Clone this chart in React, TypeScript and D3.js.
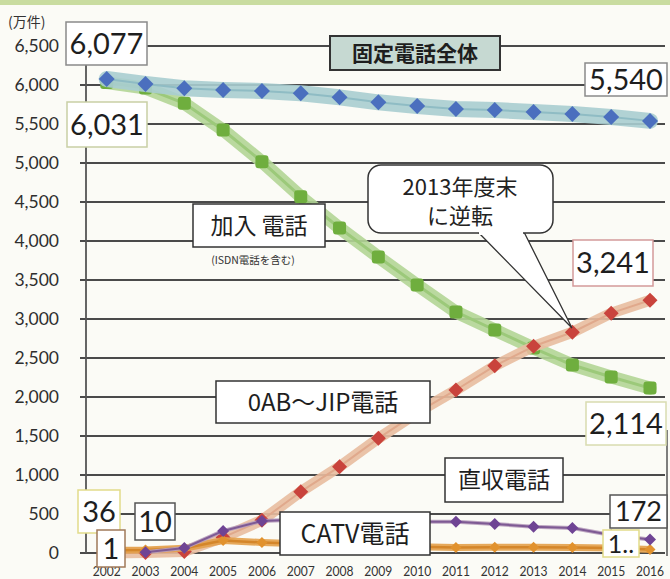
import React from "react";
import * as d3 from "d3";

const years = ["2002","2003","2004","2005","2006","2007","2008","2009","2010","2011","2012","2013","2014","2015","2016"];
const yTicks = [0,500,1000,1500,2000,2500,3000,3500,4000,4500,5000,5500,6000,6500];

const totalFixed = [6077,6013,5958,5936,5923,5894,5842,5778,5731,5692,5679,5654,5628,5590,5540];
const subscriber = [6031,5960,5765,5423,5017,4568,4167,3795,3436,3090,2859,2628,2410,2256,2114];
const ipPhone = [1,5,20,200,420,786,1107,1470,1800,2090,2400,2650,2830,3075,3241];
const directLine: (number|null)[] = [null,10,64,283,411,430,420,410,400,401,372,337,320,230,172];
const catv = [36,40,60,160,135,120,100,90,80,72,75,75,72,65,45];

const W = 670, H = 579;
const JP = "'Noto Sans CJK JP', 'Noto Sans', sans-serif";
const NUM = "Lato, 'Open Sans', 'DejaVu Sans', sans-serif";

type Box = { x: number; y: number; w: number; h: number; text: string; stroke: string; size: number; font?: string; fill?: string; bold?: boolean };

const boxes: Box[] = [
  { x: 66, y: 22, w: 81, h: 43, text: "6,077", stroke: "#8a8a8a", size: 29, font: NUM },
  { x: 67, y: 102, w: 80, h: 45, text: "6,031", stroke: "#c9cfa5", size: 29, font: NUM },
  { x: 330, y: 36, w: 170, h: 34, text: "固定電話全体", stroke: "#333", size: 21, font: JP, fill: "#c6d9d2", bold: true },
  { x: 585, y: 63, w: 82, h: 33, text: "5,540", stroke: "#8a8a8a", size: 29, font: NUM },
  { x: 193, y: 204, w: 132, h: 43, text: "加入 電話", stroke: "#333", size: 23, font: JP },
  { x: 573, y: 240, w: 80, h: 46, text: "3,241", stroke: "#d49a9a", size: 29, font: NUM },
  { x: 216, y: 381, w: 214, h: 42, text: "0AB～JIP電話", stroke: "#333", size: 24, font: JP },
  { x: 586, y: 402, w: 80, h: 43, text: "2,114", stroke: "#d9dcb0", size: 29, font: NUM },
  { x: 445, y: 458, w: 118, h: 44, text: "直収電話", stroke: "#333", size: 23, font: JP },
  { x: 610, y: 495, w: 57, h: 33, text: "172", stroke: "#555", size: 27, font: NUM },
  { x: 280, y: 512, w: 150, h: 43, text: "CATV電話", stroke: "#333", size: 25, font: JP },
  { x: 78, y: 490, w: 42, h: 43, text: "36", stroke: "#e2dc8a", size: 29, font: NUM },
  { x: 135, y: 503, w: 40, h: 37, text: "10", stroke: "#555", size: 29, font: NUM },
  { x: 97, y: 530, w: 28, h: 37, text: "1", stroke: "#a07a5a", size: 29, font: NUM },
  { x: 603, y: 530, w: 36, h: 27, text: "1..", stroke: "#e2dc8a", size: 25, font: NUM },
];

export default function App() {
  const y = d3.scaleLinear().domain([0, 6500]).range([553, 46]);
  const x = d3.scalePoint<string>().domain(years).range([106.7, 650]);

  const mkLine = (vals: (number | null)[]) =>
    d3.line<number | null>()
      .defined((d) => d !== null)
      .x((_, i) => x(years[i]) as number)
      .y((d) => y(d as number))(vals) as string;

  const diamond = (cx: number, cy: number, r: number) =>
    `M${cx},${cy - r}L${cx + r},${cy}L${cx},${cy + r}L${cx - r},${cy}Z`;

  const series = [
    { vals: subscriber, band: "#b3d596", bandW: 13, line: "#9cc97a", lineW: 3, marker: "#6fae3e", shape: "rsq", r: 6.5 },
    { vals: totalFixed, band: "#a9cdd0", bandW: 16, line: "#8fbcc4", lineW: 2, marker: "#4b6fbe", shape: "dia", r: 8 },
    { vals: ipPhone, band: "#e8bda0", bandW: 11, line: "#e0a98c", lineW: 2, marker: "#c9433c", shape: "dia", r: 7.5 },
    { vals: catv, band: "#e3a04a", bandW: 7, line: "#d4862a", lineW: 2.5, marker: "#e1922e", shape: "dia", r: 5.5 },
    { vals: directLine, band: "#b79dbd", bandW: 4, line: "#7e5a94", lineW: 2, marker: "#6f4494", shape: "dia", r: 6 },
  ];

  return (
    <svg width={W} height={H} style={{ position: "absolute", left: 0, top: 0, background: "#fbfbf6" }}>
      <rect x={0} y={0} width={W} height={H} fill="#fbfbf6" />
      <rect x={0} y={0} width={W} height={5} fill="#c9dca0" />

      <text x={8} y={27} fontFamily={JP} fontSize={14} fill="#333">(万件)</text>

      {yTicks.map((t) => (
        <line key={t} x1={80} x2={665} y1={y(t)} y2={y(t)} stroke="#4a4a4a" strokeWidth={1.8} />
      ))}
      <line x1={86} x2={86} y1={46} y2={553} stroke="#555" strokeWidth={1.8} />
      <line x1={667} x2={667} y1={430} y2={556} stroke="#555" strokeWidth={1.5} />

      {yTicks.map((t) => (
        <text key={t} x={59} y={y(t)} dy="0.35em" textAnchor="end" fontFamily={NUM} fontSize={17.5} fill="#2e2e2e">
          {d3.format(",")(t)}
        </text>
      ))}

      {years.map((yr) => (
        <text key={yr} x={x(yr)} y={576} textAnchor="middle" fontFamily={NUM} fontSize={12.5} fill="#333"
          textLength={28} lengthAdjust="spacingAndGlyphs">
          {yr}
        </text>
      ))}

      {series.map((s, si) => (
        <g key={si}>
          <path d={mkLine(s.vals)} fill="none" stroke={s.band} strokeWidth={s.bandW} strokeLinejoin="round" strokeLinecap="round" opacity={0.9} />
          <path d={mkLine(s.vals)} fill="none" stroke={s.line} strokeWidth={s.lineW} strokeLinejoin="round" />
          {s.vals.map((v, i) => {
            if (v === null) return null;
            const cx = x(years[i]) as number;
            const cy = y(v);
            return s.shape === "dia" ? (
              <path key={i} d={diamond(cx, cy, s.r)} fill={s.marker} />
            ) : (
              <rect key={i} x={cx - s.r} y={cy - s.r} width={s.r * 2} height={s.r * 2} rx={3} fill={s.marker} />
            );
          })}
        </g>
      ))}

      <g>
        <path d="M478,232 L572,328 L524,232" fill="#fff" stroke="#333" strokeWidth={1.3} />
        <rect x={368} y={165} width={185} height={68} rx={13} fill="#fff" stroke="#333" strokeWidth={1.5} />
        <rect x={479} y={229} width={44} height={6} fill="#fff" />
        <text x={460} y={195} textAnchor="middle" fontFamily={JP} fontSize={22} fill="#222">2013年度末</text>
        <text x={460} y={224} textAnchor="middle" fontFamily={JP} fontSize={22} fill="#222">に逆転</text>
      </g>

      {boxes.map((b, i) => (
        <g key={i}>
          <rect x={b.x} y={b.y} width={b.w} height={b.h} fill={b.fill ?? "#fff"} stroke={b.stroke} strokeWidth={b.fill ? 2 : 1.5} />
          <text x={b.x + b.w / 2} y={b.y + b.h / 2} dy="0.36em" textAnchor="middle" fontFamily={b.font} fontSize={b.size}
            fontWeight={b.bold ? 700 : 400} fill="#1e1e1e">
            {b.text}
          </text>
        </g>
      ))}

      <text x={253} y={264} textAnchor="middle" fontFamily={JP} fontSize={10.5} fill="#333">(ISDN電話を含む)</text>
    </svg>
  );
}
